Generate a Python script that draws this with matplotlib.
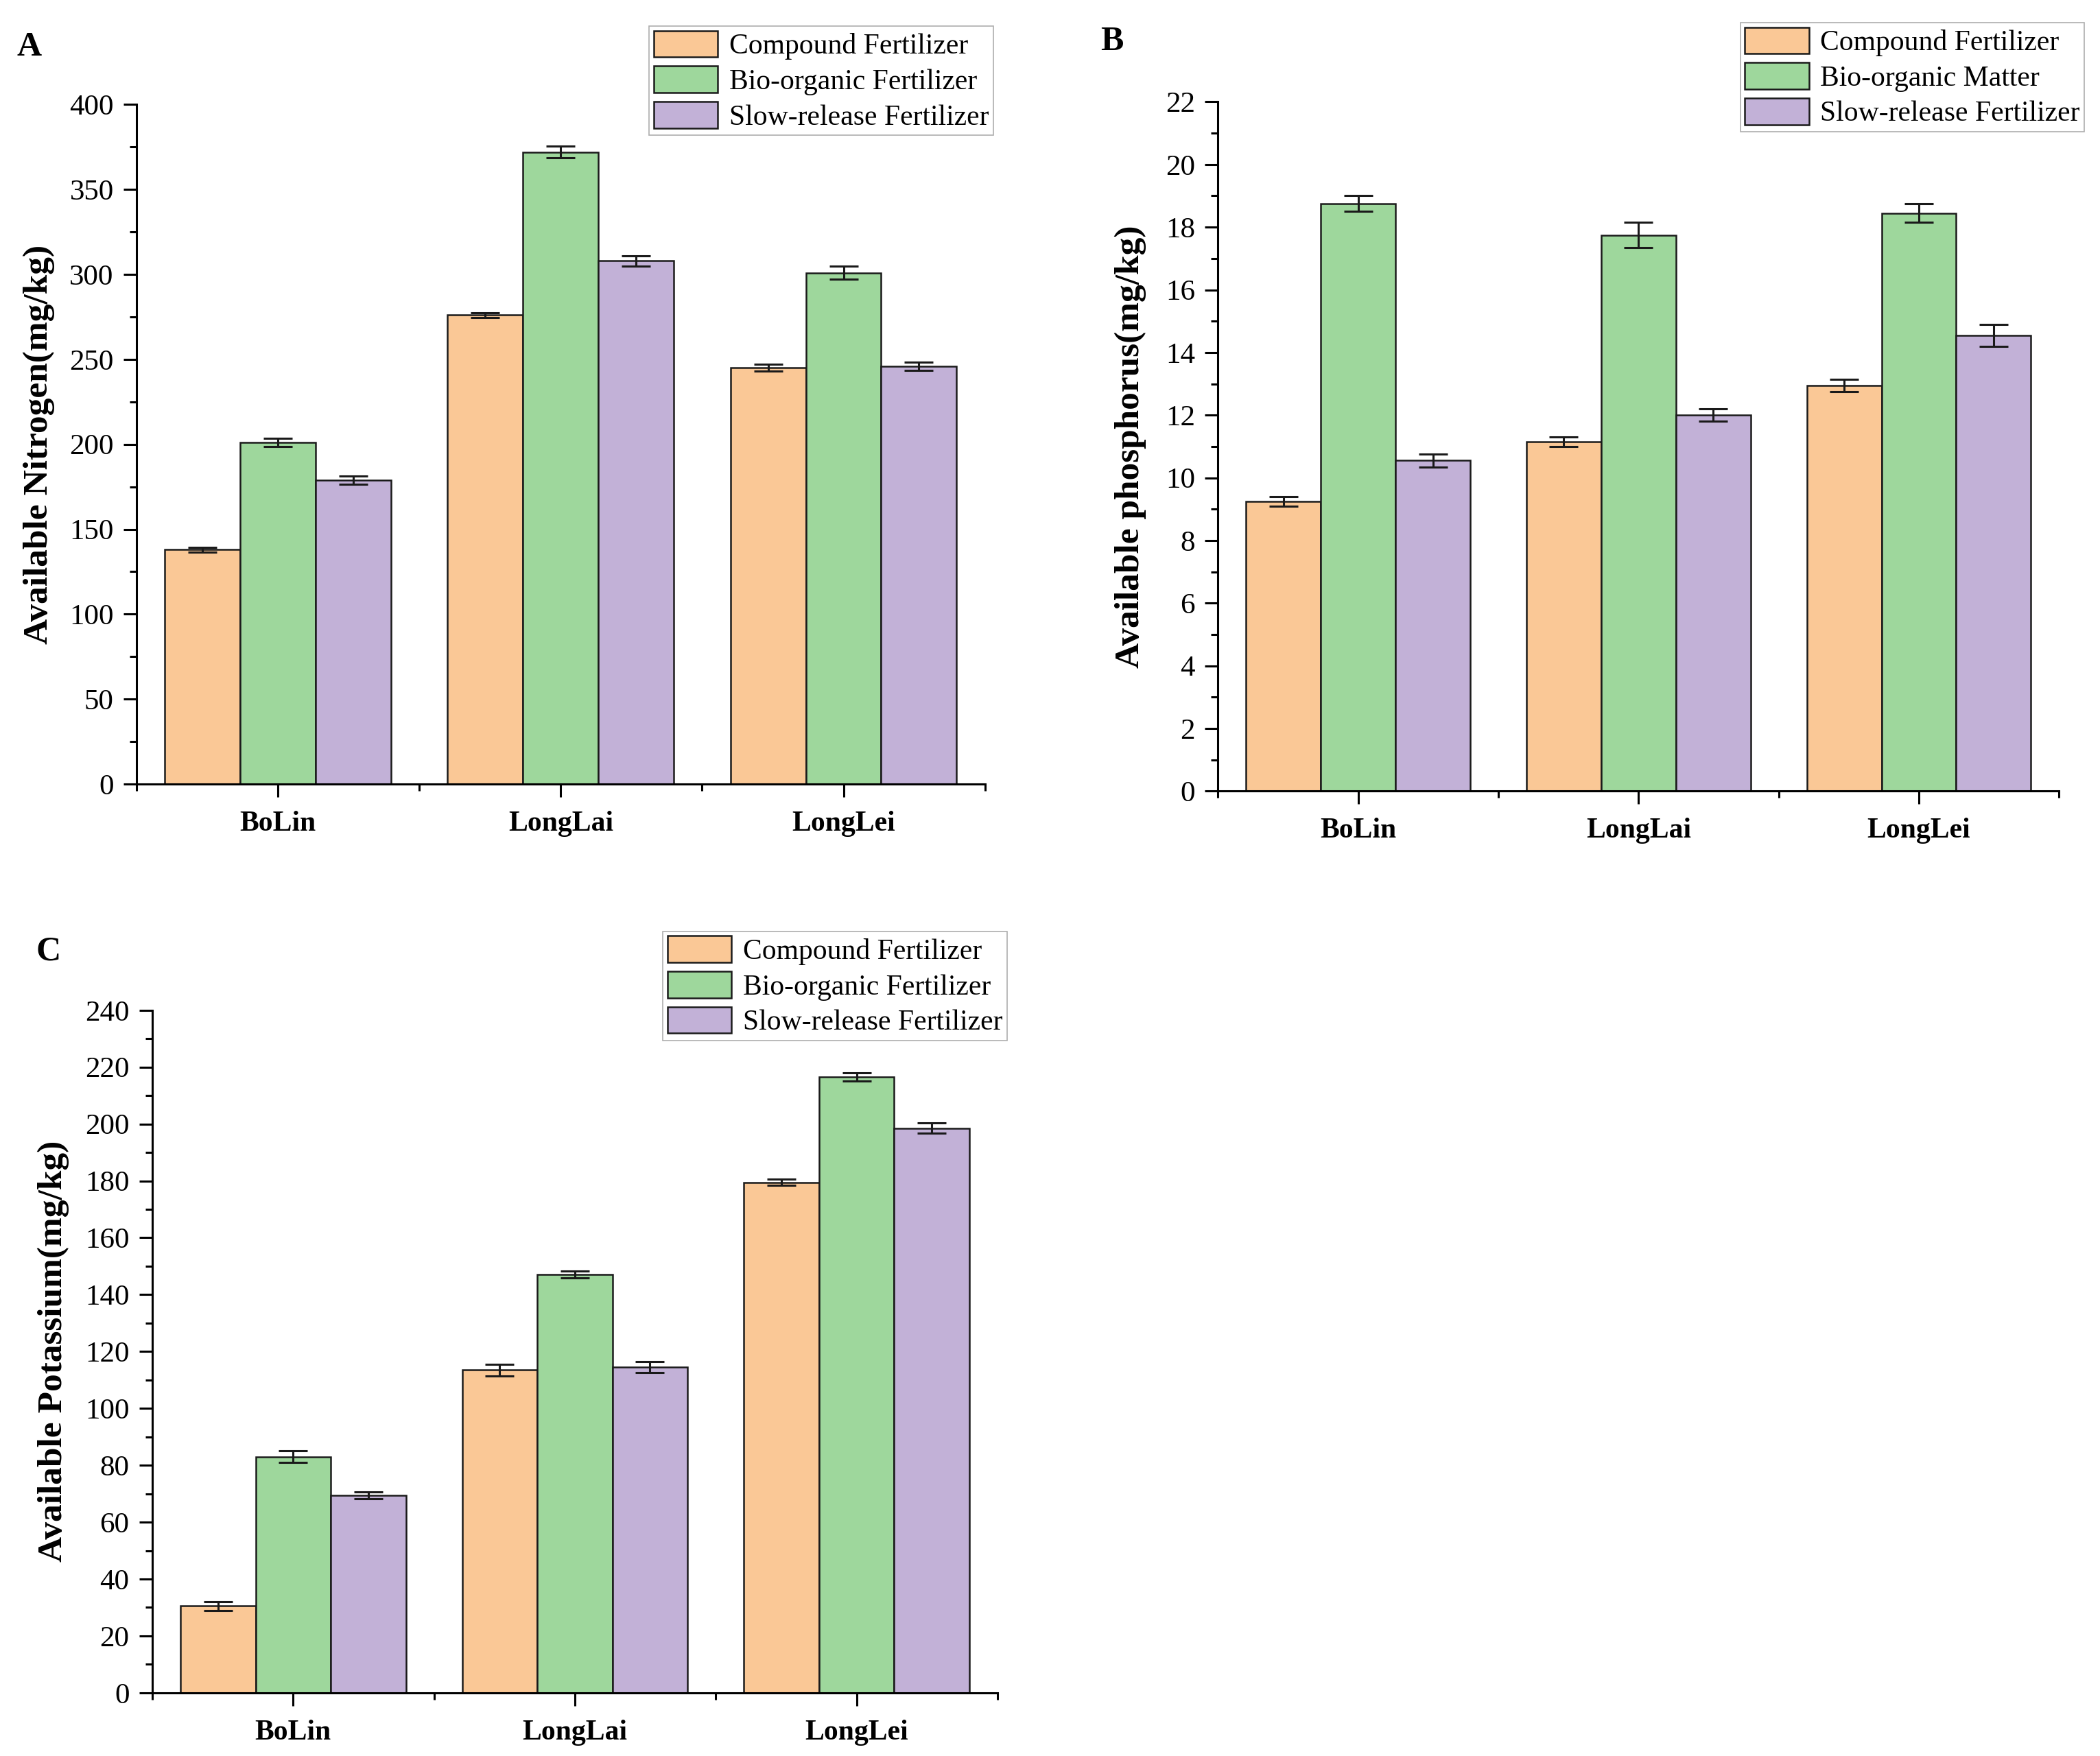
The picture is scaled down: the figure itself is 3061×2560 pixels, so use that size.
import matplotlib
matplotlib.use("Agg")
import matplotlib.pyplot as plt
import numpy as np
from matplotlib.ticker import MultipleLocator, FixedLocator

plt.rcParams['font.family'] = ['Liberation Serif', 'DejaVu Serif']

sites = ["BoLin", "LongLai", "LongLei"]
series_ac = ["Compound Fertilizer", "Bio-organic Fertilizer", "Slow-release Fertilizer"]
series_b = ["Compound Fertilizer", "Bio-organic Matter", "Slow-release Fertilizer"]
colors = ["#FAC896", "#9ED79C", "#C2B1D7"]

# available nitrogen (mg/kg), rows = fertilizer, cols = site
nitrogen = [[138, 276, 245], [201, 372, 301], [179, 308, 246]]
nitrogen_err = [[1.5, 1.5, 2], [2.5, 3.5, 4], [2.5, 3, 2.5]]

# available phosphorus (mg/kg)
phosphorus = [[9.25, 11.15, 12.95], [18.75, 17.75, 18.45], [10.55, 12.0, 14.55]]
phosphorus_err = [[0.15, 0.15, 0.2], [0.25, 0.4, 0.3], [0.2, 0.2, 0.35]]

# available potassium (mg/kg)
potassium = [[30.5, 113.5, 179.5], [83, 147, 216.5], [69.5, 114.5, 198.5]]
potassium_err = [[1.5, 2, 1], [2, 1.2, 1.5], [1.2, 2, 1.8]]

fig = plt.figure(figsize=(30.61, 25.6), dpi=100)


def panel(rect, vals, errs, labels, ylabel, ymax, ystep, letter, letter_xy, leg_xy, ylab_x):
    ax = fig.add_axes(rect)
    x = np.arange(1, len(sites) + 1)
    w = 0.8 / 3
    for i in range(3):
        ax.bar(x + (i - 1) * w, vals[i], width=w, color=colors[i], edgecolor="#1a1a1a",
               linewidth=1.8, label=labels[i], zorder=2)
        ax.errorbar(x + (i - 1) * w, vals[i], yerr=errs[i], fmt="none", ecolor="#1a1a1a",
                    elinewidth=2.2, capsize=15, capthick=2.2, zorder=3)
    ax.set_xlim(0.5, 3.5)
    ax.set_ylim(0, ymax)
    ax.set_xticks(x)
    ax.set_xticklabels(sites, fontsize=30, fontweight="bold")
    ax.xaxis.set_minor_locator(FixedLocator([0.5, 1.5, 2.5, 3.5]))
    ax.yaxis.set_major_locator(MultipleLocator(ystep))
    ax.yaxis.set_minor_locator(MultipleLocator(ystep / 2))
    for s in ["top", "right"]:
        ax.spines[s].set_visible(False)
    for s in ["left", "bottom"]:
        ax.spines[s].set_linewidth(2.2)
    ax.tick_params(axis="both", which="major", direction="out", length=14, width=2.2, labelsize=31)
    ax.tick_params(axis="both", which="minor", direction="out", length=7, width=2.2)
    ax.tick_params(axis="x", which="major", pad=14, labelsize=30)
    ax.tick_params(axis="y", which="major", pad=10)
    ax.set_ylabel(ylabel, fontsize=37, fontweight="bold")
    ax.yaxis.set_label_coords(ylab_x, 0.5)
    leg = ax.legend(loc="upper right", bbox_to_anchor=leg_xy, bbox_transform=fig.transFigure,
                    fontsize=30, frameon=True, fancybox=False, borderaxespad=0,
                    handlelength=2.25, handleheight=1.05, handletextpad=0.4,
                    labelspacing=0.22, borderpad=0.15)
    leg.get_frame().set_edgecolor("#999999")
    leg.get_frame().set_linewidth(1.2)
    fig.text(letter_xy[0], letter_xy[1], letter, fontsize=36, fontweight="bold",
             ha="center", va="center")
    return ax


panel([0.065, 0.5535, 0.404, 0.387], nitrogen, nitrogen_err, series_ac,
      "Available Nitrogen(mg/kg)", 400, 50, "A", (0.014, 0.973), (0.473, 0.985), -0.096)
panel([0.580, 0.5495, 0.4005, 0.3925], phosphorus, phosphorus_err, series_b,
      "Available phosphorus(mg/kg)", 22, 2, "B", (0.5296, 0.976), (0.9925, 0.987), -0.085)
panel([0.0725, 0.036, 0.4025, 0.3887], potassium, potassium_err, series_ac,
      "Available Potassium(mg/kg)", 240, 20, "C", (0.0232, 0.458), (0.4795, 0.4695), -0.098)

fig.savefig("out.png", dpi=100, facecolor="white")
